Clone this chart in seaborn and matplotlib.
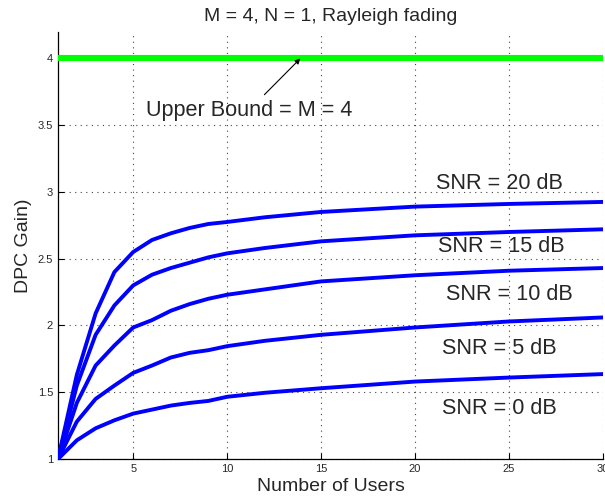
import numpy as np
import pandas as pd
import matplotlib
matplotlib.use("Agg")
import matplotlib.pyplot as plt
import seaborn as sns
from matplotlib.ticker import MultipleLocator

# Number of users at which the DPC gain was evaluated
users = [1, 2, 3, 4, 5, 6, 7, 8, 9, 10, 12, 15, 20, 25, 30]

# DPC gain per SNR
gain_0db = [1.0, 1.14, 1.23, 1.29, 1.34, 1.37, 1.40, 1.42, 1.435, 1.466, 1.496, 1.53, 1.58, 1.61, 1.636]
gain_5db = [1.0, 1.28, 1.45, 1.55, 1.645, 1.70, 1.76, 1.795, 1.815, 1.845, 1.885, 1.93, 1.985, 2.03, 2.06]
gain_10db = [1.0, 1.42, 1.70, 1.85, 1.985, 2.04, 2.11, 2.16, 2.20, 2.23, 2.27, 2.33, 2.376, 2.41, 2.43]
gain_15db = [1.0, 1.55, 1.93, 2.15, 2.30, 2.38, 2.43, 2.47, 2.51, 2.54, 2.58, 2.63, 2.675, 2.70, 2.72]
gain_20db = [1.0, 1.63, 2.09, 2.40, 2.55, 2.64, 2.69, 2.73, 2.76, 2.775, 2.81, 2.85, 2.89, 2.91, 2.925]

snr_labels = ["SNR = 0 dB", "SNR = 5 dB", "SNR = 10 dB", "SNR = 15 dB", "SNR = 20 dB"]
label_x = [24.5, 24.5, 25.0, 24.6, 24.5]
label_y = [1.38, 1.83, 2.23, 2.59, 3.06]

upper_bound = 4  # M = 4
x_ticks = [5, 10, 15, 20, 25, 30]
y_ticks = [1, 1.5, 2, 2.5, 3, 3.5, 4]

sns.set_style("white")
plt.rcParams["font.family"] = ["Liberation Sans", "DejaVu Sans"]

rows = []
for lab, g in zip(snr_labels, [gain_0db, gain_5db, gain_10db, gain_15db, gain_20db]):
    for u, v in zip(users, g):
        rows.append({"users": u, "gain": v, "snr": lab})
df = pd.DataFrame(rows)

fig = plt.figure(figsize=(6.05, 5.01), dpi=100)
ax = fig.add_axes([0.0959, 0.0838, 0.9008, 0.853])

bound_df = pd.DataFrame({"users": [users[0], users[-1]], "gain": [upper_bound, upper_bound]})
sns.lineplot(data=bound_df, x="users", y="gain", color="#00ff00", linewidth=4.4, ax=ax, zorder=3)
sns.lineplot(data=df, x="users", y="gain", units="snr", estimator=None,
             color="#0000ff", linewidth=2.8, ax=ax, legend=False, zorder=3)

ax.set_xlim(1, 30)
ax.set_ylim(1, 4.2)
ax.set_xticks(x_ticks)
ax.set_yticks(y_ticks)
ax.set_yticklabels([f"{t:g}" for t in y_ticks])
ax.xaxis.set_minor_locator(MultipleLocator(0.5))
ax.tick_params(axis="both", which="major", direction="in", length=4, width=0.8,
               labelsize=8, color="black", pad=3.5)
ax.tick_params(axis="x", which="minor", direction="inout", length=2.5, width=0.6, color="black")
ax.tick_params(bottom=True, left=True)

ax.grid(True, which="major", linestyle=(0, (1, 4)), color="#444444", linewidth=0.8)
for s in ["top", "right"]:
    ax.spines[s].set_visible(False)
for s in ["left", "bottom"]:
    ax.spines[s].set_color("black")
    ax.spines[s].set_linewidth(0.9)

ax.set_title("M = 4, N = 1, Rayleigh fading", fontsize=14, pad=8)
ax.set_xlabel("Number of Users", fontsize=14, labelpad=3)
ax.set_ylabel("DPC Gain)", fontsize=14, labelpad=4)

for lab, lx, ly in zip(snr_labels, label_x, label_y):
    ax.text(lx, ly, lab, fontsize=15.6, ha="center", va="center", zorder=4)

ax.annotate("Upper Bound = M = 4", xy=(13.9, upper_bound), xytext=(11.15, 3.61),
            fontsize=15.6, ha="center", va="center",
            arrowprops=dict(arrowstyle="-|>", color="black", lw=0.8,
                            mutation_scale=8, shrinkA=2, shrinkB=0))

fig.savefig("out.png", dpi=100)
